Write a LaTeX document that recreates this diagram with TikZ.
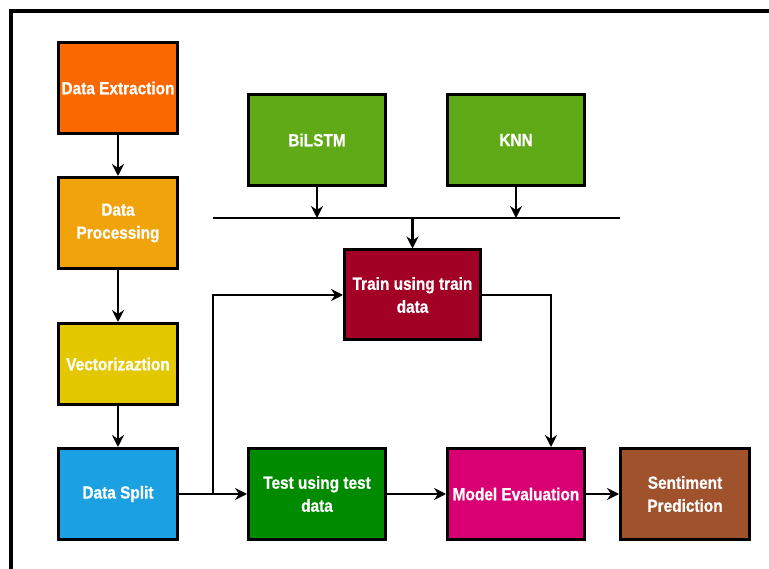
\documentclass[tikz,border=0pt]{standalone}
\usepackage{fontspec}
\newfontfamily\boxfont{Liberation Sans Bold}[FakeStretch=0.88,FakeBold=0.7]
\usetikzlibrary{arrows.meta,calc}
\definecolor{cExt}{HTML}{FA6800}
\definecolor{cProc}{HTML}{F0A30A}
\definecolor{cVec}{HTML}{E3C800}
\definecolor{cSplit}{HTML}{1BA1E2}
\definecolor{cModel}{HTML}{60A917}
\definecolor{cTrain}{HTML}{A20025}
\definecolor{cTest}{HTML}{008A00}
\definecolor{cEval}{HTML}{D80073}
\definecolor{cSent}{HTML}{A0522D}
\tikzset{
  stepbox/.style={draw=black, line width=3pt, rectangle, inner sep=2pt,
    text=white, align=center, font=\boxfont\fontsize{17.5}{23}\selectfont},
  arr/.style={draw=black, line width=2.5pt,
    -{Stealth[length=12pt,width=12pt,inset=4pt]}},
  plainline/.style={draw=black, line width=2.5pt},
}
\begin{document}
\begin{tikzpicture}[x=1pt,y=-1pt]
\useasboundingbox (0,0) rectangle (769,569);
\fill[white] (0,0) rectangle (769,569);
\draw[line width=4.5pt] (11,585) -- (11,11) -- (785,11);

\node[stepbox, fill=cExt, minimum width=119pt, minimum height=91pt] (ext) at (118,88) {Data Extraction};
\node[stepbox, fill=cProc, minimum width=119pt, minimum height=91pt] (proc) at (118,223) {Data\\Processing};
\node[stepbox, fill=cVec, minimum width=119pt, minimum height=81pt] (vec) at (118,364) {Vectorizaztion};
\node[stepbox, fill=cSplit, minimum width=119pt, minimum height=91pt] (split) at (118,494) {Data Split};
\node[stepbox, fill=cModel, minimum width=137pt, minimum height=91pt] (bilstm) at (317,140) {BiLSTM};
\node[stepbox, fill=cModel, minimum width=137pt, minimum height=91pt] (knn) at (516,140) {KNN};
\node[stepbox, fill=cTrain, minimum width=136pt, minimum height=90pt] (train) at (412.5,295) {Train using train\\data};
\node[stepbox, fill=cTest, minimum width=137pt, minimum height=91pt] (test) at (317,494) {Test using test\\data};
\node[stepbox, fill=cEval, minimum width=137pt, minimum height=91pt] (eval) at (516,494) {Model Evaluation};
\node[stepbox, fill=cSent, minimum width=129pt, minimum height=91pt] (sent) at (685,494) {Sentiment\\Prediction};

\coordinate (busL) at (213,218);
\coordinate (busR) at (620,218);
\coordinate (j1) at (213,494);

\draw[arr] (ext) -- (proc);
\draw[arr] (proc) -- (vec);
\draw[arr] (vec) -- (split);
\draw[arr] (split) -- (test);
\draw[plainline] (j1) -- (busL |- train.west);
\draw[arr] ([xshift=-1.25pt]busL |- train.west) -- (train.west);
\draw[plainline] (busL) -- (busR);
\draw[arr] (bilstm.south) -- (bilstm.south |- busL);
\draw[arr] (knn.south) -- (knn.south |- busL);
\draw[arr] (train.north |- busL) -- (train.north);
\draw[arr] (train.east) -| ([xshift=35pt]eval.north);
\draw[arr] (test) -- (eval);
\draw[arr] (eval) -- (sent);
\end{tikzpicture}
\end{document}
